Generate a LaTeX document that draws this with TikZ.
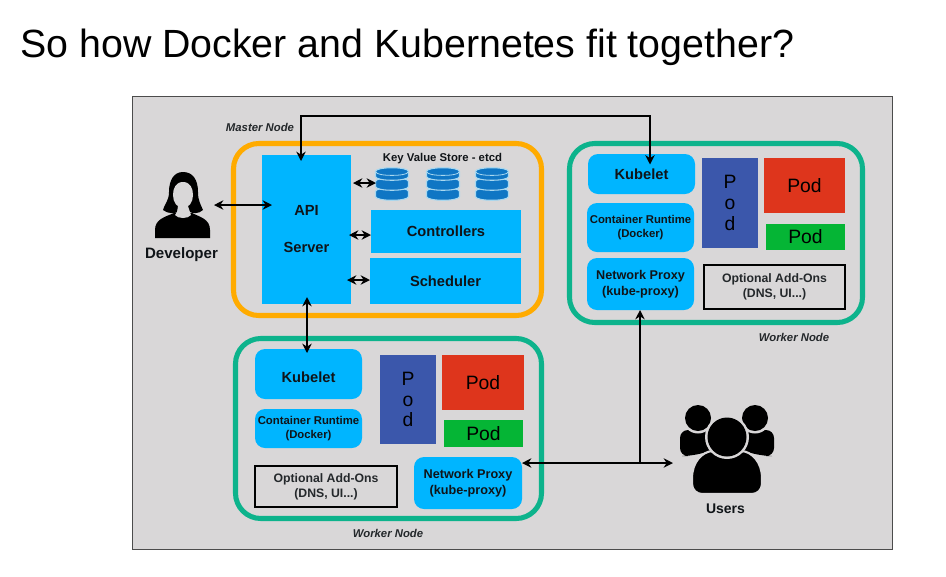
\documentclass[tikz,border=0pt]{standalone}
\usepackage{fontspec}
\setmainfont{Liberation Sans}
\usetikzlibrary{arrows.meta}
\definecolor{panel}{HTML}{D9D7D8}
\definecolor{cyanbox}{HTML}{00B5FF}
\definecolor{masterc}{HTML}{FFAB00}
\definecolor{workerc}{HTML}{0DB38C}
\definecolor{podblue}{HTML}{3B57AB}
\definecolor{podred}{HTML}{DE351C}
\definecolor{podgreen}{HTML}{05B535}
\definecolor{dbblue}{HTML}{0F76C4}
\definecolor{dbedge}{HTML}{A8D8F0}
\definecolor{ink}{HTML}{101418}
\newcommand{\fs}[1]{\fontsize{#1}{1.25\dimexpr#1pt\relax}\selectfont}
\newcommand{\bx}[7]{\node[#2,minimum width={(#5-#3)*0.75pt},minimum height={(#6-#4)*0.75pt}] (#1) at ({(#3+#5)/2},{(#4+#6)/2}) {#7};}
\newcommand{\dbdisc}[2]{%
  \fill[dbblue,draw=dbedge,line width=0.8pt] (#1-16.5,#2+4) .. controls (#1-16.5,#2-1) and (#1+16.5,#2-1) .. (#1+16.5,#2+4) -- (#1+16.5,#2+9) .. controls (#1+16.5,#2+14) and (#1-16.5,#2+14) .. (#1-16.5,#2+9) -- cycle;
}
\newcommand{\dbicon}[2]{%
  \dbdisc{#1}{#2+20}\dbdisc{#1}{#2+10}\dbdisc{#1}{#2}
  \draw[dbedge,line width=0.6pt] (#1-16,#2+4.5) .. controls (#1-16,#2+9) and (#1+16,#2+9) .. (#1+16,#2+4.5);
}
\tikzset{
  x=0.75pt,y=-0.75pt,
  blue box/.style={fill=cyanbox,inner sep=0pt,align=center,text=ink,font=\bfseries\fs{11}},
  round blue/.style={blue box,rounded corners=7.5pt},
  runtime blue/.style={round blue,font=\bfseries\fs{8.5}},
  proxy blue/.style={round blue,font=\bfseries\fs{9.5}},
  pod/.style={inner sep=0pt,align=center,text=black,font=\fs{14.5}},
  addon/.style={draw=black,line width=2.2pt,inner sep=0pt,align=center,text=ink!90!panel,font=\bfseries\fs{9.2}},
  group/.style={rounded corners=19pt,line width=3.8pt},
  cap label/.style={font=\bfseries\itshape\fs{8.5},text=ink!90!panel,inner sep=0pt},
  icon label/.style={font=\bfseries\fs{11.3},text=ink,inner sep=0pt},
  conn/.style={black,line width=1.7pt,-{Stealth[length=7pt,width=7pt]}},
  biconn/.style={black,line width=1.7pt,{Stealth[length=7pt,width=7pt]}-{Stealth[length=7pt,width=7pt]}},
}
\begin{document}
\begin{tikzpicture}
\useasboundingbox (0,0) rectangle (946,576);
\fill[white] (0,0) rectangle (946,576);
\node[anchor=west,inner sep=0pt,font=\fs{29.5}] (title) at (20,47) {So how Docker and Kubernetes fit together?};
\draw[fill=panel,draw=black!70,line width=0.7pt] (132,96) rectangle (892,549);

% groups
\draw[group,draw=masterc] (233.5,143.5) rectangle (541.5,315.5);
\draw[group,draw=workerc] (569.5,143.5) rectangle (862.5,322.5);
\draw[group,draw=workerc] (235.5,338.5) rectangle (541.5,518.5);

% master
\bx{api}{blue box}{262}{155}{351}{304}{}
\node[blue box,fill=none] (apitext) at (306.5,229.5) {API\\[14pt]Server};
\bx{ctrl}{blue box}{371}{210}{521}{253}{Controllers}
\bx{sched}{blue box}{370}{258}{521}{304}{Scheduler}
\node[font=\bfseries\fs{8.5},text=ink,inner sep=0pt] (kvs) at (442.5,158.5) {Key Value Store - etcd};
\dbicon{392}{167.5}
\dbicon{443}{167.5}
\dbicon{492}{167.5}
\coordinate (db) at (376,183);
\node[cap label] (mlabel) at (260,127) {Master Node};

% worker right
\bx{kub1}{round blue}{588}{154}{695}{194}{Kubelet}
\bx{rt1}{runtime blue}{587}{203}{694}{252}{Container Runtime\\(Docker)}
\bx{px1}{proxy blue}{587}{258}{694}{310}{Network Proxy\\(kube-proxy)}
\bx{pb1}{pod,fill=podblue}{702}{158}{758}{248}{P\\[-2.7pt]o\\[-2.7pt]d}
\bx{pr1}{pod,fill=podred}{764}{158}{845}{213}{Pod}
\bx{pg1}{pod,fill=podgreen}{766}{224}{845}{250}{Pod}
\bx{add1}{addon}{704}{265}{845}{309}{Optional Add-Ons\\(DNS, UI...)}
\node[cap label] (w1label) at (794,337) {Worker Node};

% worker bottom
\bx{kub2}{round blue}{255}{349}{362}{399}{\raisebox{-6.5pt}[0pt][0pt]{Kubelet}}
\bx{rt2}{runtime blue}{255}{409}{362}{448}{Container Runtime\\(Docker)}
\bx{pb2}{pod,fill=podblue}{380}{355}{436}{444}{P\\[-2.7pt]o\\[-2.7pt]d}
\bx{pr2}{pod,fill=podred}{442}{355}{524}{410}{Pod}
\bx{pg2}{pod,fill=podgreen}{444}{420}{523}{447}{Pod}
\bx{add2}{addon}{255}{466}{397}{507}{Optional Add-Ons\\(DNS, UI...)}
\bx{px2}{proxy blue}{414}{457}{522}{509}{Network Proxy\\(kube-proxy)}
\node[cap label] (w2label) at (388,533) {Worker Node};

% developer icon
\fill[black] (183,172) .. controls (174,172) and (169,180) .. (169,192) .. controls (169,201) and (164,205) .. (163,210) .. controls (168,214) and (175,214) .. (180,211) -- (188,211) .. controls (192,214) and (199,214) .. (203,210) .. controls (201,205) and (198,201) .. (198,192) .. controls (198,180) and (193,172) .. (183,172) -- cycle;
\fill[black] (174,213) .. controls (165,217) and (155,219) .. (155,230) -- (155,238) -- (210,238) -- (210,230) .. controls (210,219) and (200,217) .. (192,213) -- cycle;
\fill[panel] (183,182) .. controls (176,182) and (173,188) .. (173,195) .. controls (173,202) and (177,208) .. (183,208) .. controls (189,208) and (193,202) .. (193,195) .. controls (193,188) and (190,182) .. (183,182) -- cycle;
\fill[panel] (178,206) -- (188,206) -- (190,212) -- (191,215) .. controls (188,219) and (178,219) .. (175,215) -- (177,212) -- cycle;
\coordinate (dev) at (214,205);
\node[icon label] (devlabel) at (181.5,255) {Developer};

% users icon
\fill[black,rounded corners=6pt] (680,456) -- (680,430) -- (716,430) -- (716,450) -- (690,456) -- cycle;
\fill[black,rounded corners=6pt] (774,456) -- (774,430) -- (738,430) -- (738,450) -- (764,456) -- cycle;
\fill[panel] (698,418) circle[radius=15.5];
\fill[panel] (755,418) circle[radius=15.5];
\fill[black] (698,418) circle[radius=13];
\fill[black] (755,418) circle[radius=13];
\fill[black,draw=panel,line width=1.6pt] (692,478) .. controls (692,462) and (702,452) .. (712,451) -- (742,451) .. controls (752,452) and (762,462) .. (762,478) -- (762,484) .. controls (762,490) and (757,494) .. (752,494) -- (702,494) .. controls (697,494) and (692,490) .. (692,484) -- cycle;
\fill[panel] (727,437) circle[radius=22];
\fill[black] (727,437) circle[radius=19.5];
\coordinate (users) at (673,463);
\node[icon label,font=\bfseries\fs{10.5}] (ulabel) at (725.5,508.5) {Users};

% connectors
\coordinate (apitop) at (301,161);
\coordinate (kubtop) at (650,164.5);
\coordinate (busl) at (301,116);
\coordinate (busr) at (650,116);
\draw[biconn] (apitop) -- (busl) -- (busr) -- (kubtop);
\coordinate (apibot) at (307,297);
\coordinate (kubin) at (307,353);
\draw[biconn] (apibot) -- (kubin);
\coordinate (apidev) at (272,205);
\draw[biconn] (dev) -- (apidev);
\coordinate (apidb) at (353,183);
\draw[biconn] (apidb) -- (db);
\coordinate (apic) at (349,235);
\coordinate (ctrlin) at (371,235);
\draw[biconn] (apic) -- (ctrlin);
\coordinate (apis) at (347,280);
\coordinate (schedin) at (370,280);
\draw[biconn] (apis) -- (schedin);
\coordinate (pxin) at (522,463);
\draw[biconn] (pxin) -- (users);
\coordinate (tee) at (640,463);
\coordinate (px1in) at (640,310);
\draw[conn] (tee) -- (px1in);
\end{tikzpicture}
\end{document}
